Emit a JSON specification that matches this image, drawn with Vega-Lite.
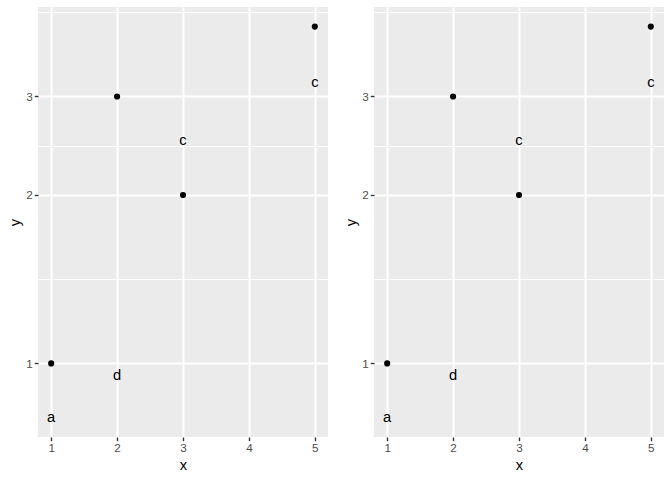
{
  "$schema": "https://vega.github.io/schema/vega-lite/v6.json",
  "background": "white",
  "padding": {"left": 7, "top": 7, "right": 6, "bottom": 5},
  "spacing": 15,
  "datasets": {
    "pts": [
      {"x": 1, "y": 1},
      {"x": 2, "y": 3},
      {"x": 3, "y": 2},
      {"x": 5, "y": 4}
    ],
    "labs": [
      {"x": 1, "y": 0.8, "label": "a"},
      {"x": 2, "y": 0.95, "label": "d"},
      {"x": 3, "y": 2.5, "label": "c"},
      {"x": 5, "y": 3.17, "label": "c"}
    ]
  },
  "config": {
    "view": {"fill": "#EBEBEB", "stroke": null},
    "axis": {
      "domain": false,
      "gridColor": "white",
      "gridOpacity": 1,
      "gridWidth": {"condition": {"test": "abs(datum.value - round(datum.value)) < 0.001", "value": 2}, "value": 1},
      "tickColor": "#333333",
      "tickOpacity": {"condition": {"test": "abs(datum.value - round(datum.value)) < 0.001", "value": 1}, "value": 0},
      "tickSize": 3.7,
      "tickWidth": 1.4,
      "format": "d",
      "labelFont": "Liberation Sans",
      "labelFontSize": 11.7,
      "labelColor": "#4D4D4D",
      "labelPadding": 2,
      "labelFlush": false,
      "labelOverlap": false,
      "labelExpr": "abs(datum.value - round(datum.value)) < 0.001 ? format(datum.value, 'd') : ''",
      "titleFont": "Liberation Sans",
      "titleFontSize": 14.7,
      "titleFontWeight": "normal",
      "titleColor": "black",
      "titlePadding": 3
    },
    "text": {"font": "Liberation Sans", "fontSize": 14.7, "color": "black"}
  },
  "hconcat": [
    {
      "width": 290,
      "height": 430,
      "layer": [
        {
          "data": {"name": "pts"},
          "mark": {"type": "circle", "size": 38, "color": "black", "opacity": 1},
          "encoding": {
            "x": {"field": "x", "type": "quantitative", "scale": {"domain": [0.8, 5.2], "nice": false, "zero": false}, "axis": {"values": [1, 1.5, 2, 2.5, 3, 3.5, 4, 4.5, 5], "title": "x"}},
            "y": {"field": "y", "type": "quantitative", "scale": {"type": "log", "domain": [0.7386, 4.336], "nice": false}, "axis": {"values": [1, 1.4142, 2, 2.4495, 3, 4.2426], "title": "y"}}
          }
        },
        {
          "data": {"name": "labs"},
          "mark": {"type": "text", "baseline": "middle", "align": "center"},
          "encoding": {
            "x": {"field": "x", "type": "quantitative"},
            "y": {"field": "y", "type": "quantitative"},
            "text": {"field": "label"}
          }
        }
      ]
    },
    {
      "width": 290,
      "height": 430,
      "layer": [
        {
          "data": {"name": "pts"},
          "mark": {"type": "circle", "size": 38, "color": "black", "opacity": 1},
          "encoding": {
            "x": {"field": "x", "type": "quantitative", "scale": {"domain": [0.8, 5.2], "nice": false, "zero": false}, "axis": {"values": [1, 1.5, 2, 2.5, 3, 3.5, 4, 4.5, 5], "title": "x"}},
            "y": {"field": "y", "type": "quantitative", "scale": {"type": "log", "domain": [0.7386, 4.336], "nice": false}, "axis": {"values": [1, 1.4142, 2, 2.4495, 3, 4.2426], "title": "y"}}
          }
        },
        {
          "data": {"name": "labs"},
          "mark": {"type": "text", "baseline": "middle", "align": "center"},
          "encoding": {
            "x": {"field": "x", "type": "quantitative"},
            "y": {"field": "y", "type": "quantitative"},
            "text": {"field": "label"}
          }
        }
      ]
    }
  ]
}
